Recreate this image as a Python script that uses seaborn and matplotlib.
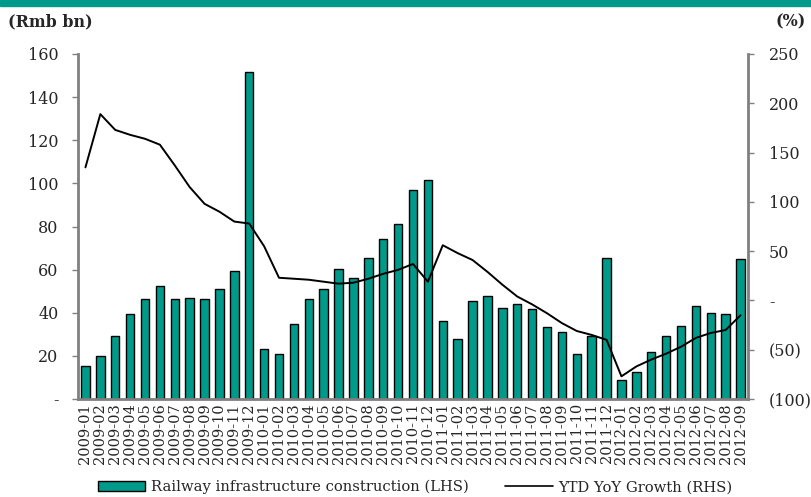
import numpy as np
import pandas as pd
import matplotlib
matplotlib.use("Agg")
import matplotlib.pyplot as plt
import seaborn as sns
from matplotlib.patches import Rectangle
from matplotlib.lines import Line2D

months = [f"{y}-{m:02d}" for y in (2009, 2010, 2011) for m in range(1, 13)] + \
         [f"2012-{m:02d}" for m in range(1, 10)]

railway_invest = [15.4, 20.1, 29.4, 39.4, 46.4, 52.4, 46.4, 47.0, 46.4, 50.9, 59.4, 151.5,
                  23.2, 20.9, 34.8, 46.4, 50.9, 60.2, 56.3, 65.5, 74.1, 81.0, 96.9, 101.6,
                  36.3, 27.8, 45.6, 47.8, 42.4, 43.9, 41.7, 33.3, 30.9, 20.9, 29.4, 65.4,
                  8.7, 12.5, 21.7, 29.4, 33.9, 43.1, 40.0, 39.4, 64.8]

ytd_growth = [135, 189, 173, 168, 164, 158, 137, 115, 98, 90, 80, 78,
              55, 23, 22, 21, 19, 17, 18, 22, 27, 31, 37, 19,
              56, 48, 41, 29, 16, 4, -4, -13, -23, -31, -35, -40,
              -77, -67, -60, -54, -47, -38, -33, -30, -15]

left_ticks = [0, 20, 40, 60, 80, 100, 120, 140, 160]
left_labels = ["-", "20", "40", "60", "80", "100", "120", "140", "160"]
right_ticks = [-100, -50, 0, 50, 100, 150, 200, 250]
right_labels = ["(100)", "(50)", "-", "50", "100", "150", "200", "250"]

bar_label = "Railway infrastructure construction (LHS)"
line_label = "YTD YoY Growth (RHS)"

TEAL = "#009a8a"
GRAY = "#808080"

sns.set_style("white")
plt.rcParams["font.family"] = ["DejaVu Serif", "DejaVu Sans"]

df = pd.DataFrame({"month": months, "value": railway_invest, "growth": ytd_growth})

fig = plt.figure(figsize=(8.11, 4.97), dpi=100)
ax = fig.add_axes([78/811, 1-399/497, (748-78)/811, (399-54)/497])

sns.barplot(data=df, x="month", y="value", order=months, color=TEAL,
            saturation=1, width=0.56, edgecolor="black", linewidth=1.0, ax=ax)
ax.set_xlim(-0.5, len(months) - 0.5)
ax.set_ylim(0, 160)
ax.set_yticks(left_ticks)
ax.set_yticklabels(left_labels, fontsize=11.5)
ax.set_xlabel("")
ax.set_ylabel("")
ax.tick_params(axis="x", rotation=90, labelsize=10.5, length=0, pad=3)
ax.tick_params(axis="y", length=4, width=1, color=GRAY, left=True, pad=10)

ax2 = ax.twinx()
sns.lineplot(data=df, x="month", y="growth", sort=False, color="black",
             linewidth=1.4, ax=ax2)
ax2.set_ylim(-100, 250)
ax2.set_yticks(right_ticks)
ax2.set_yticklabels(right_labels, fontsize=11.5)
ax2.set_ylabel("")
ax2.tick_params(axis="y", length=4, width=1, color=GRAY, right=True, pad=11)
ax2.set_xlim(-0.5, len(months) - 0.5)

for a in (ax, ax2):
    a.spines["top"].set_visible(False)
    for side in ("left", "right", "bottom"):
        a.spines[side].set_color(GRAY)
        a.spines[side].set_linewidth(2)
ax.spines["right"].set_visible(False)
ax2.spines["left"].set_visible(False)
ax2.spines["bottom"].set_visible(False)

# top banner
fig.patches.append(Rectangle((0, 1-6/497), 1, 6/497, transform=fig.transFigure,
                             color=TEAL, zorder=0))

fig.text(8/811, 1-22/497, "(Rmb bn)", fontsize=11.5, fontweight="bold",
         va="center", ha="left")
fig.text(806/811, 1-22/497, "(%)", fontsize=11.5, fontweight="bold",
         va="center", ha="right")

handles = [Rectangle((0, 0), 1, 1, facecolor=TEAL, edgecolor="black", linewidth=1.0),
           Line2D([0], [0], color="black", linewidth=1.2)]
fig.legend(handles, [bar_label, line_label], loc="center",
           bbox_to_anchor=(0.512, 1-487/497), ncol=2, frameon=False,
           fontsize=10.6, handlelength=3.2, handleheight=0.7, columnspacing=2.5,
           handletextpad=0.4, borderaxespad=0)

fig.savefig("out.png", dpi=100)
